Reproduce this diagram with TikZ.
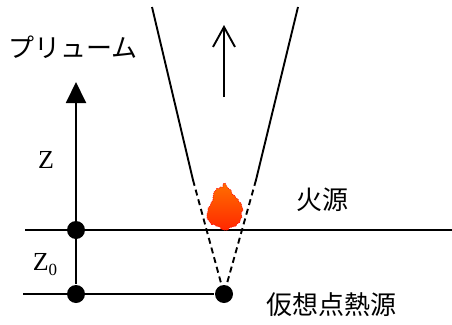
\documentclass[tikz,border=0pt]{standalone}
\usepackage{fontspec}
\setmainfont{Liberation Serif}
\newfontfamily\jp{Noto Sans CJK JP}
\usetikzlibrary{arrows.meta}
\definecolor{flametop}{RGB}{255,110,0}
\definecolor{flamebot}{RGB}{255,40,0}
\begin{document}
\begin{tikzpicture}[x=1pt,y=-1pt,line width=1.9pt,
  dot/.style={circle,fill,inner sep=0pt,minimum size=18pt},
  jlabel/.style={font=\jp\fontsize{26}{30}\selectfont,inner sep=0pt},
  zlabel/.style={font=\fontsize{26}{30}\selectfont,inner sep=0pt}]
\useasboundingbox(0,0)rectangle(452,324);
% ground level, virtual source and height axis
\coordinate(gl)at(25,230);\coordinate(gr)at(452,230);
\coordinate(bl)at(23,294);
\node[dot](src)at(224,294){};
\node[dot](z0)at(76,294){};
\node[dot](z1)at(76,230){};
\coordinate(ztip)at(76,82);
\draw(gl)--(gr);
\draw(bl)--(src);
\draw[-{Triangle[width=20pt,length=21pt]}](z0)--(ztip);
% plume edges, dashed below the fire
\coordinate(ltop)at(152,7);\coordinate(rtop)at(298,7);
\coordinate(lmid)at(193,180);\coordinate(rmid)at(256,180);
\draw(ltop)--(lmid)(rtop)--(rmid);
\draw[dash pattern=on 6pt off 4pt](lmid)--(src)(rmid)--(src);
\coordinate(ubot)at(224,97);\coordinate(utop)at(224,25);
\draw[-{Straight Barb[width=22pt,length=20pt]}](ubot)--(utop);
% fire
\shade[top color=flametop,bottom color=flamebot,draw=red,line width=0.6pt,
  dash pattern=on 1pt off 1pt]
plot coordinates{(225,183)(227,187)(229,189)(231,190)(232,194)(235,196)(236,198)
(238,199)(239,202)(241,203)(242,207)(243,210)(241,213)(242,217)(240,220)(240,222)
(237,224)(236,226)(232,227)(229,228)(228,230)(224,230)(221,229)(220,227)(216,226)
(214,224)(212,225)(209,221)(207,218)(207,214)(208,211)(208,208)(210,206)(211,203)
(213,200)(213,197)(214,192)(216,190)(217,188)(219,189)(220,187)(223,187)(223,184)}--cycle;
% labels
\node[jlabel](plume)at(73,47){プリューム};
\node[jlabel](fire)at(322,200){火源};
\node[jlabel](virt)at(331,305){仮想点熱源};
\node[zlabel](zl)at(46,160){Z};
\node[zlabel](z0l)at(45,265){Z\raisebox{-5pt}{\fontsize{17}{17}\selectfont0}};
\end{tikzpicture}
\end{document}
